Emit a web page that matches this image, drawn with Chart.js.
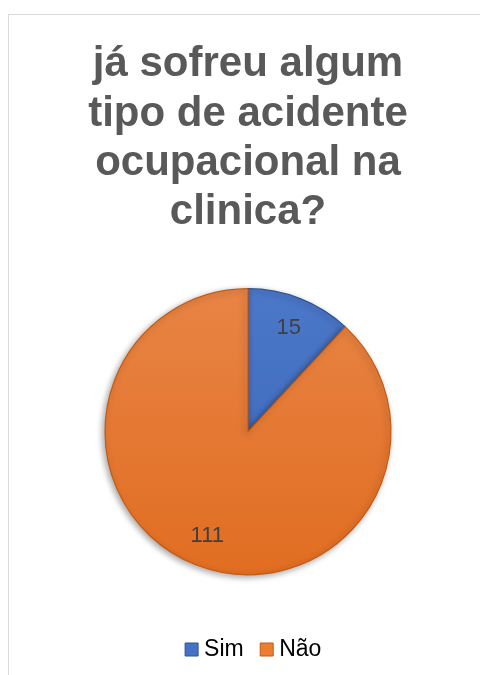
<!DOCTYPE html>
<html>
<head>
<meta charset="utf-8">
<script src="https://cdn.jsdelivr.net/npm/chart.js@4.4.1/dist/chart.umd.min.js"></script>
<style>
  html, body { margin: 0; padding: 0; background: #ffffff; width: 480px; height: 675px; overflow: hidden; }
  #frame { position: absolute; left: 8px; top: 14px; width: 520px; height: 720px; border: 1px solid #D9D9D9; box-sizing: border-box; }
  #box { position: absolute; left: 0; top: 0; width: 480px; height: 675px; }
</style>
</head>
<body>
<div id="frame"></div>
<div id="box"><canvas id="c" width="480" height="675"></canvas></div>
<script>
const titleLines = ["já sofreu algum", "tipo de acidente", "ocupacional na", "clinica?"];
const categories = ["Sim", "Não"];
const values = [15, 111];
const baseColors = ["#4472C4", "#ED7D31"];
const topColors = ["#4D7ACB", "#E9874A"];
const bottomColors = ["#3A63B6", "#E06A1C"];
const edgeColors = ["#2F5597", "#C55A11"];

const labelPlugin = {
  id: 'sliceLabels',
  afterDatasetsDraw(chart) {
    const ctx = chart.ctx;
    const meta = chart.getDatasetMeta(0);
    ctx.save();
    ctx.font = '22px "Liberation Sans", Arial, sans-serif';
    ctx.fillStyle = '#404040';
    ctx.textAlign = 'center';
    ctx.textBaseline = 'middle';
    meta.data.forEach((arc, i) => {
      const p = arc.getProps(['x', 'y', 'startAngle', 'endAngle', 'outerRadius'], true);
      const mid = (p.startAngle + p.endAngle) / 2;
      const r = p.outerRadius * 0.78;
      ctx.fillText(String(values[i]), p.x + Math.cos(mid) * r, p.y + Math.sin(mid) * r);
    });
    ctx.restore();
  }
};

const shadowPlugin = {
  id: 'pieShadow',
  beforeDatasetsDraw(chart) {
    const ctx = chart.ctx;
    ctx.save();
    ctx.shadowColor = 'rgba(0,0,0,0.35)';
    ctx.shadowBlur = 6;
    ctx.shadowOffsetX = -2;
    ctx.shadowOffsetY = 2;
  },
  afterDatasetsDraw(chart) {
    chart.ctx.restore();
  }
};

const legendShift = {
  id: 'legendShift',
  afterLayout(chart) {
    const lg = chart.legend;
    if (lg) { lg.left += 8; lg.right += 8; }
  }
};

function gradFill(context) {
  const chart = context.chart;
  const area = chart.chartArea;
  const i = context.dataIndex;
  if (!area) return baseColors[i];
  const g = chart.ctx.createLinearGradient(0, area.top, 0, area.bottom);
  g.addColorStop(0, topColors[i]);
  g.addColorStop(1, bottomColors[i]);
  return g;
}

new Chart(document.getElementById('c'), {
  type: 'pie',
  data: {
    labels: categories,
    datasets: [{
      data: values,
      backgroundColor: gradFill,
      borderColor: edgeColors,
      borderWidth: 1.2,
      radius: 143
    }]
  },
  options: {
    responsive: false,
    animation: false,
    layout: { padding: { left: 16, right: 0, top: 0, bottom: 4 } },
    plugins: {
      title: {
        display: true,
        text: titleLines,
        color: '#595959',
        font: { family: '"Liberation Sans", Arial, sans-serif', size: 42, weight: 'bold', lineHeight: 1.175 },
        padding: { top: 40, bottom: 10 }
      },
      legend: {
        display: true,
        position: 'bottom',
        labels: {
          color: '#595959',
          font: { family: '"Liberation Sans", Arial, sans-serif', size: 23 },
          usePointStyle: true,
          pointStyle: 'rect',
          boxWidth: 2,
          boxHeight: 13,
          padding: 22,
          generateLabels(chart) {
            return categories.map((c, i) => ({
              text: c,
              fillStyle: baseColors[i],
              strokeStyle: edgeColors[i],
              lineWidth: 1,
              pointStyle: 'rect',
              hidden: false,
              index: i,
              datasetIndex: 0
            }));
          }
        }
      },
      tooltip: { enabled: false }
    }
  },
  plugins: [shadowPlugin, labelPlugin, legendShift]
});
</script>
</body>
</html>
